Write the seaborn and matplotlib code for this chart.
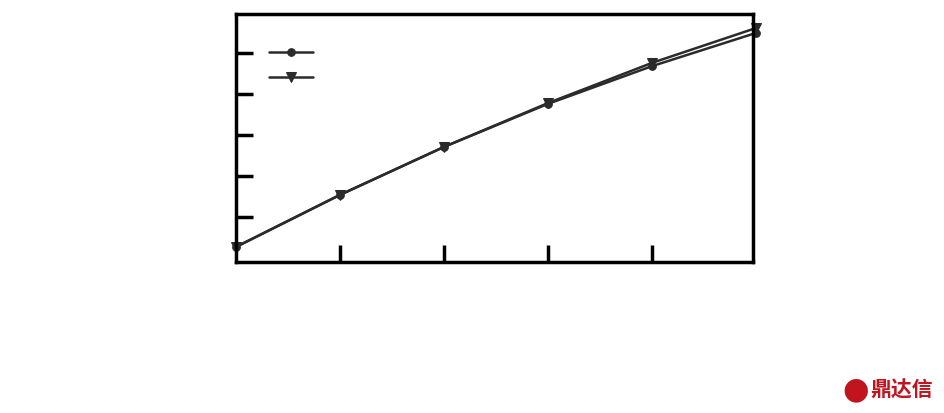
import matplotlib
matplotlib.use("Agg")
import matplotlib.pyplot as plt
import seaborn as sns
import pandas as pd

# values (arbitrary units, no labels in the original)
x_vals = [0, 1, 2, 3, 4, 5]
series_circle = [0.27, 1.54, 2.71, 3.76, 4.68, 5.49]
series_triangle = [0.27, 1.54, 2.71, 3.78, 4.76, 5.61]
x_ticks = [1, 2, 3, 4]
y_ticks = [1, 2, 3, 4, 5]

df = pd.DataFrame({"x": x_vals, "a": series_circle, "b": series_triangle})

sns.set_theme(style="white")
plt.rcParams["font.family"] = ["Noto Sans CJK SC", "DejaVu Sans"]

fig = plt.figure(figsize=(9.45, 4.13), dpi=100)
ax = fig.add_axes([236 / 945, 1 - 262 / 413, (753 - 236) / 945, (262 - 14) / 413])

line_color = "#2b2b2b"
sns.lineplot(data=df, x="x", y="a", ax=ax, color=line_color, linewidth=1.8,
             marker="o", markersize=5.5, markeredgecolor=line_color, label=" ",
             clip_on=False)
sns.lineplot(data=df, x="x", y="b", ax=ax, color=line_color, linewidth=1.8,
             marker="v", markersize=7, markeredgecolor=line_color, label="  ",
             clip_on=False)

ax.set_xlim(0, 4.97)
ax.set_ylim(1 - 45 / 41, 1 + 203 / 41)
ax.set_xticks(x_ticks)
ax.set_yticks(y_ticks)
ax.set_xticklabels([])
ax.set_yticklabels([])
ax.set_xlabel("")
ax.set_ylabel("")
ax.tick_params(direction="in", length=12, width=2.5, color="black",
               bottom=True, left=True)
for sp in ax.spines.values():
    sp.set_visible(True)
    sp.set_color("black")
    sp.set_linewidth(2.5)

leg = ax.legend(loc="upper left", bbox_to_anchor=(33 / 517, 1 - 32 / 248),
                frameon=False, handlelength=3.2, handletextpad=0.2,
                borderpad=0, borderaxespad=0, labelspacing=0.8, fontsize=10)

# watermark
fig.text(0.905, 0.056, "●", color="#c0141e", fontsize=22, ha="center", va="center",
         family=["DejaVu Sans"])
fig.text(0.921, 0.056, "鼎达信", color="#c0141e", fontsize=15, fontweight="bold",
         ha="left", va="center")

fig.savefig("out.png", dpi=100)
